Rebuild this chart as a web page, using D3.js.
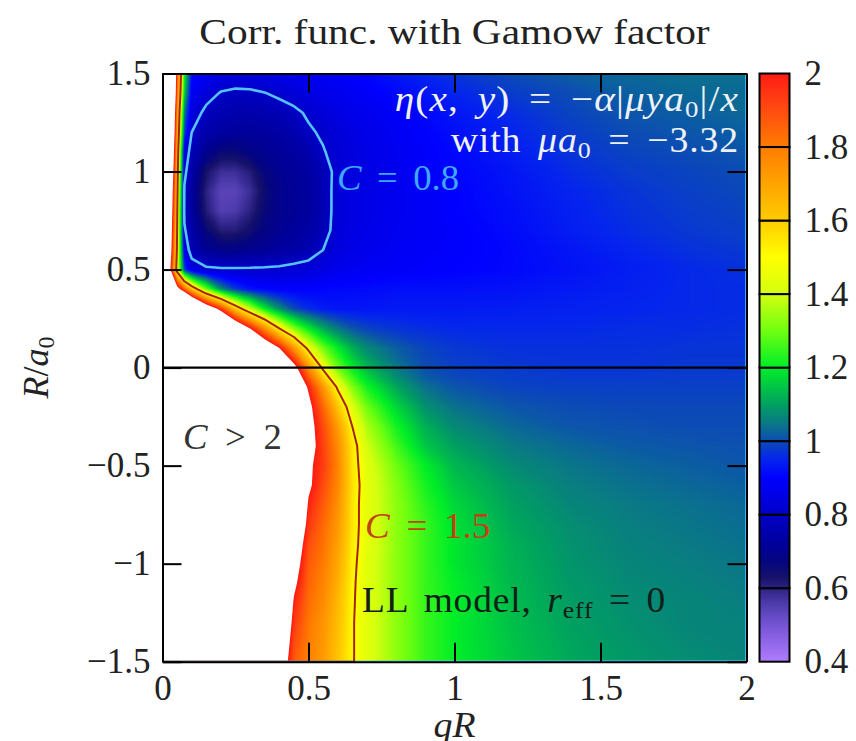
<!DOCTYPE html>
<html>
<head>
<meta charset="utf-8">
<script src="https://cdnjs.cloudflare.com/ajax/libs/d3/7.8.5/d3.min.js"></script>
<style>
  body { margin: 0; background: #fff; }
  svg text { font-family: "Liberation Serif", "Times New Roman", serif; }
</style>
</head>
<body>
<svg id="chart" width="856" height="741"></svg>
<script>
// C(qR, R/a0) on a (non-uniform) grid
var gridX = [0, 0.025, 0.05, 0.075, 0.1, 0.15, 0.2, 0.25, 0.3, 0.35, 0.4, 0.45, 0.5,
             0.55, 0.6, 0.65, 0.7, 0.8, 0.9, 1.0, 1.2, 1.4, 1.6, 1.8, 2.0];
var gridY = [1.5, 1.4, 1.3, 1.2, 1.1, 1.0, 0.9, 0.8, 0.7, 0.6, 0.5, 0.4, 0.3, 0.2, 0.1, 0,
             -0.1, -0.2, -0.3, -0.4, -0.5, -0.6, -0.7, -0.8, -0.9, -1.0, -1.1, -1.2, -1.3, -1.4, -1.5];
var corrRows = [
  [8, 3.0, 1.85, 1.2, 0.92, 0.88, 0.86, 0.85, 0.85, 0.855, 0.86, 0.87, 0.88, 0.885, 0.89, 0.9, 0.91, 0.93, 0.95, 0.97, 1.0, 1.02, 1.03, 1.04, 1.04],
  [8, 2.9, 1.8, 1.15, 0.88, 0.83, 0.795, 0.785, 0.788, 0.798, 0.815, 0.83, 0.845, 0.86, 0.87, 0.88, 0.89, 0.91, 0.93, 0.95, 0.98, 1.0, 1.02, 1.03, 1.03],
  [7, 2.7, 1.72, 1.05, 0.84, 0.78, 0.76, 0.75, 0.75, 0.755, 0.765, 0.785, 0.81, 0.83, 0.85, 0.86, 0.87, 0.89, 0.91, 0.93, 0.96, 0.99, 1.01, 1.02, 1.03],
  [7, 2.6, 1.68, 0.98, 0.8, 0.75, 0.73, 0.72, 0.72, 0.725, 0.735, 0.755, 0.79, 0.81, 0.83, 0.845, 0.86, 0.88, 0.9, 0.92, 0.95, 0.98, 1.0, 1.01, 1.02],
  [6.5, 2.5, 1.62, 0.85, 0.77, 0.7, 0.66, 0.66, 0.68, 0.7, 0.715, 0.73, 0.75, 0.795, 0.825, 0.84, 0.855, 0.875, 0.895, 0.91, 0.94, 0.97, 0.99, 1.0, 1.01],
  [6, 2.4, 1.58, 0.82, 0.74, 0.63, 0.58, 0.58, 0.61, 0.67, 0.7, 0.715, 0.73, 0.77, 0.82, 0.835, 0.85, 0.87, 0.89, 0.905, 0.93, 0.96, 0.98, 0.99, 1.0],
  [6, 2.3, 1.55, 0.79, 0.73, 0.6, 0.54, 0.54, 0.58, 0.65, 0.695, 0.71, 0.725, 0.76, 0.83, 0.845, 0.855, 0.87, 0.885, 0.9, 0.925, 0.95, 0.97, 0.985, 0.995],
  [5.5, 2.25, 1.52, 0.78, 0.73, 0.61, 0.55, 0.56, 0.6, 0.66, 0.695, 0.71, 0.725, 0.76, 0.83, 0.845, 0.855, 0.87, 0.885, 0.9, 0.92, 0.945, 0.965, 0.98, 0.99],
  [5, 2.2, 1.5, 0.81, 0.74, 0.66, 0.61, 0.61, 0.64, 0.68, 0.705, 0.72, 0.735, 0.77, 0.83, 0.85, 0.86, 0.875, 0.885, 0.895, 0.915, 0.94, 0.96, 0.975, 0.985],
  [4.5, 2.15, 1.48, 0.86, 0.76, 0.71, 0.69, 0.69, 0.7, 0.71, 0.725, 0.74, 0.76, 0.8, 0.84, 0.855, 0.865, 0.88, 0.89, 0.895, 0.91, 0.93, 0.95, 0.965, 0.975],
  [4, 2.05, 1.42, 0.98, 0.85, 0.815, 0.81, 0.81, 0.81, 0.812, 0.815, 0.825, 0.835, 0.85, 0.865, 0.875, 0.88, 0.89, 0.895, 0.9, 0.91, 0.925, 0.94, 0.955, 0.965],
  [4, 2.6, 2.1, 1.85, 1.62, 1.3, 1.08, 0.98, 0.93, 0.91, 0.9, 0.9, 0.9, 0.905, 0.91, 0.912, 0.915, 0.92, 0.92, 0.92, 0.925, 0.935, 0.945, 0.955, 0.96],
  [5, 4, 3.4, 3.0, 2.6, 2.2, 1.93, 1.6, 1.38, 1.2, 1.08, 1.0, 0.96, 0.94, 0.93, 0.93, 0.93, 0.935, 0.935, 0.935, 0.94, 0.945, 0.95, 0.955, 0.96],
  [6, 5, 4.3, 3.8, 3.4, 2.9, 2.55, 2.25, 2.0, 1.75, 1.5, 1.32, 1.2, 1.11, 1.05, 1.01, 0.99, 0.97, 0.96, 0.955, 0.955, 0.955, 0.96, 0.96, 0.965],
  [7, 6, 5, 4.4, 4, 3.4, 3.0, 2.65, 2.4, 2.2, 2.0, 1.73, 1.46, 1.3, 1.2, 1.12, 1.07, 1.02, 0.99, 0.975, 0.965, 0.965, 0.965, 0.97, 0.97],
  [8, 7, 6, 5.3, 4.8, 4, 3.5, 3.1, 2.8, 2.6, 2.4, 2.07, 1.75, 1.47, 1.3, 1.2, 1.13, 1.05, 1.0, 0.985, 0.975, 0.97, 0.97, 0.975, 0.975],
  [9, 8, 7, 6.2, 5.6, 4.7, 4, 3.5, 3.1, 2.75, 2.45, 2.2, 1.98, 1.73, 1.48, 1.32, 1.22, 1.11, 1.04, 1.01, 0.99, 0.985, 0.985, 0.985, 0.985],
  [10, 9, 8, 7, 6.3, 5.2, 4.4, 3.8, 3.3, 2.95, 2.62, 2.35, 2.05, 1.84, 1.62, 1.42, 1.3, 1.17, 1.08, 1.04, 1.01, 1.0, 0.995, 0.995, 0.995],
  [11, 10, 9, 7.8, 7, 5.7, 4.8, 4.1, 3.5, 3.1, 2.75, 2.4, 2.07, 1.9, 1.72, 1.5, 1.36, 1.22, 1.12, 1.07, 1.03, 1.01, 1.005, 1.0, 1.0],
  [12, 11, 10, 8.5, 7.5, 6.1, 5.1, 4.3, 3.7, 3.2, 2.8, 2.45, 2.08, 1.92, 1.76, 1.55, 1.4, 1.26, 1.15, 1.1, 1.05, 1.03, 1.015, 1.01, 1.005],
  [13, 12, 10.5, 9, 8, 6.5, 5.4, 4.5, 3.8, 3.3, 2.85, 2.45, 2.03, 1.93, 1.78, 1.55, 1.43, 1.3, 1.2, 1.13, 1.07, 1.045, 1.03, 1.02, 1.01],
  [14, 12.5, 11, 9.5, 8.4, 6.8, 5.6, 4.6, 3.9, 3.3, 2.8, 2.4, 2.03, 1.9, 1.77, 1.56, 1.44, 1.32, 1.22, 1.15, 1.09, 1.055, 1.04, 1.03, 1.02],
  [15, 13, 11.5, 10, 8.8, 7, 5.7, 4.7, 3.9, 3.3, 2.78, 2.35, 1.98, 1.87, 1.75, 1.55, 1.44, 1.33, 1.24, 1.17, 1.1, 1.065, 1.05, 1.04, 1.03],
  [16, 14, 12, 10.5, 9.2, 7.3, 5.9, 4.8, 4.0, 3.3, 2.75, 2.28, 1.94, 1.84, 1.73, 1.55, 1.44, 1.33, 1.25, 1.18, 1.11, 1.075, 1.055, 1.045, 1.035],
  [17, 15, 12.5, 11, 9.6, 7.5, 6, 4.8, 3.9, 3.2, 2.6, 2.16, 1.9, 1.82, 1.71, 1.54, 1.44, 1.33, 1.25, 1.19, 1.12, 1.08, 1.06, 1.05, 1.04],
  [18, 16, 13, 11.5, 10, 7.8, 6.2, 4.9, 3.9, 3.15, 2.55, 2.1, 1.87, 1.8, 1.69, 1.53, 1.43, 1.33, 1.25, 1.19, 1.125, 1.085, 1.065, 1.055, 1.045],
  [19, 17, 14, 12, 10.4, 8, 6.3, 5, 3.9, 3.1, 2.48, 2.04, 1.85, 1.78, 1.67, 1.52, 1.43, 1.33, 1.25, 1.2, 1.13, 1.09, 1.07, 1.06, 1.05],
  [20, 18, 15, 12.5, 10.8, 8.2, 6.4, 5, 3.9, 3.05, 2.4, 1.98, 1.83, 1.76, 1.65, 1.515, 1.43, 1.33, 1.25, 1.2, 1.135, 1.095, 1.075, 1.065, 1.055],
  [21, 19, 16, 13, 11.2, 8.5, 6.5, 5, 3.9, 3.0, 2.32, 1.94, 1.81, 1.74, 1.64, 1.51, 1.43, 1.33, 1.25, 1.2, 1.14, 1.1, 1.08, 1.065, 1.06],
  [22, 20, 17, 13.5, 11.6, 8.7, 6.6, 5, 3.9, 2.95, 2.25, 1.9, 1.8, 1.73, 1.63, 1.51, 1.43, 1.33, 1.25, 1.2, 1.145, 1.105, 1.085, 1.07, 1.06],
  [23, 21, 18, 14, 12, 9, 6.8, 5.1, 3.9, 2.9, 2.18, 1.87, 1.79, 1.72, 1.62, 1.51, 1.43, 1.33, 1.25, 1.2, 1.15, 1.11, 1.09, 1.075, 1.065]
];
var xTicks = [0, 0.5, 1, 1.5, 2];
var yTicks = [-1.5, -1, -0.5, 0, 0.5, 1, 1.5];
var barTicks = [0.4, 0.6, 0.8, 1, 1.2, 1.4, 1.6, 1.8, 2];
var lineLevels = [0.8, 1.5];

// colour map of the figure
var cmapStops = [0.4, 0.5, 0.56, 0.6, 0.63, 0.67, 0.72, 0.8, 0.9, 0.95, 1.0, 1.05, 1.1, 1.2, 1.3, 1.4, 1.5, 1.6, 1.7, 1.8, 1.9, 2.0];
var cmapColors = ["#b07cff", "#7454d4", "#4c3aaa", "#2c2284", "#16126a", "#06067e", "#00009c", "#0000c8", "#0000ff", "#0424ee",
                  "#0c4cb4", "#0a7a84", "#00a060", "#00ee28", "#70ff10", "#d4ff10", "#ffff00", "#ffcc00", "#ffa400",
                  "#ff7c00", "#ff4c10", "#ff1c14"];

var plot = { left: 162.5, right: 746.5, top: 73.5, bottom: 661.7 };
var cbBox = { left: 759.5, width: 30 };

var svg = d3.select("#chart");
var defs = svg.append("defs");

var x = d3.scaleLinear().domain([0, 2]).range([plot.left, plot.right]);
var y = d3.scaleLinear().domain([-1.5, 1.5]).range([plot.bottom, plot.top]);
var color = d3.scaleLinear().domain(cmapStops).range(cmapColors).clamp(true);

// contour grid -> data -> pixels
var nx = gridX.length, ny = gridY.length;
var flat = [].concat.apply([], corrRows);
var ix = d3.scaleLinear().domain(d3.range(nx)).range(gridX).clamp(true);
var iy = d3.scaleLinear().domain(d3.range(ny)).range(gridY).clamp(true);
var toPlot = d3.geoTransform({
  point: function(px, py) {
    this.stream.point(x(ix(px - 0.5)), y(iy(py - 0.5)));
  }
});
var path = d3.geoPath(toPlot);
var contours = d3.contours().size([nx, ny]);

defs.append("clipPath").attr("id", "plotClip")
  .append("rect")
  .attr("x", plot.left).attr("y", plot.top)
  .attr("width", plot.right - plot.left).attr("height", plot.bottom - plot.top);

var map = svg.append("g").attr("clip-path", "url(#plotClip)");

// filled bands, fine steps so the shading looks continuous
var levels = d3.range(160, 800).map(function(k) { return k / 400; });
map.selectAll("path.band")
  .data(contours.thresholds(levels)(flat))
  .enter()
  .append("path")
  .attr("class", "band")
  .attr("d", path)
  .attr("fill", function(d) { return color(d.value + 0.00125); });

// C > 2 left blank
map.append("path")
  .datum(contours.contour(flat, 2))
  .attr("d", path)
  .attr("fill", "#fff");

// contour lines
var lineColors = { 0.8: "#56c2ff", 1.5: "#a8220a" };
lineLevels.forEach(function(lv) {
  map.append("path")
    .datum(contours.contour(flat, lv))
    .attr("d", path)
    .attr("fill", "none")
    .attr("stroke", lineColors[lv])
    .attr("stroke-width", lv === 0.8 ? 2.6 : 2)
    .attr("stroke-linejoin", "round");
});

// y = 0 line
svg.append("line")
  .attr("x1", x(0)).attr("x2", x(2))
  .attr("y1", y(0)).attr("y2", y(0))
  .attr("stroke", "#000").attr("stroke-width", 2.2);

// axes, ticks inside on all four sides
var fmt = d3.format("~g");
function styleAxis(g) {
  g.selectAll("path.domain").attr("stroke", "#000").attr("stroke-width", 2);
  g.selectAll(".tick line").attr("stroke", "#000").attr("stroke-width", 2);
  g.selectAll("text").attr("font-size", 35).attr("fill", "#222")
    .attr("font-family", "Liberation Serif, serif");
}
svg.append("g").attr("transform", "translate(0," + plot.bottom + ")")
  .call(d3.axisBottom(x).tickValues(xTicks).tickFormat(fmt).tickSize(-19).tickSizeOuter(0).tickPadding(13))
  .call(styleAxis);
svg.append("g").attr("transform", "translate(0," + plot.top + ")")
  .call(d3.axisTop(x).tickValues(xTicks).tickFormat("").tickSize(-19).tickSizeOuter(0))
  .call(styleAxis);
svg.append("g").attr("transform", "translate(" + plot.left + ",0)")
  .call(d3.axisLeft(y).tickValues(yTicks).tickFormat(fmt).tickSize(-19).tickSizeOuter(0).tickPadding(12))
  .call(styleAxis);
svg.append("g").attr("transform", "translate(" + plot.right + ",0)")
  .call(d3.axisRight(y).tickValues(yTicks).tickFormat("").tickSize(-19).tickSizeOuter(0))
  .call(styleAxis);

// colour bar: one outlined box per 0.2 step, all sharing one gradient
var cb = d3.scaleLinear().domain([0.4, 2]).range([plot.bottom, plot.top]);
var grad = defs.append("linearGradient")
  .attr("id", "cbGrad")
  .attr("gradientUnits", "userSpaceOnUse")
  .attr("x1", 0).attr("y1", cb(0.4)).attr("x2", 0).attr("y2", cb(2));
grad.selectAll("stop")
  .data(cmapStops)
  .enter()
  .append("stop")
  .attr("offset", function(d) { return (d - 0.4) / 1.6; })
  .attr("stop-color", function(d) { return color(d); });

var segs = d3.pairs(barTicks);
svg.append("g").attr("class", "cbar")
  .selectAll("rect")
  .data(segs)
  .enter()
  .append("rect")
  .attr("x", cbBox.left).attr("width", cbBox.width)
  .attr("y", function(d) { return cb(d[1]); })
  .attr("height", function(d) { return cb(d[0]) - cb(d[1]); })
  .attr("fill", "url(#cbGrad)")
  .attr("stroke", "#000").attr("stroke-width", 2);

var cbAxis = svg.append("g").attr("transform", "translate(" + (cbBox.left + cbBox.width) + ",0)")
  .call(d3.axisRight(cb).tickValues(barTicks).tickFormat(fmt).tickSize(0).tickPadding(15))
  .call(styleAxis);
cbAxis.select("path.domain").remove();

// text with italic / subscript pieces; sx widens it a little like the TeX font
function mathText(px, py, sx, pieces) {
  var sel = svg.append("text").attr("transform", "translate(" + px + "," + py + ") scale(" + sx + ",1)");
  var down = false;
  pieces.forEach(function(p) {
    var t = sel.append("tspan").text(p.t);
    if (p.i) t.style("font-style", "italic");
    if (p.sub) {
      t.attr("font-size", 24).attr("dy", 6);
      down = true;
    } else if (down) {
      t.attr("dy", -6);
      down = false;
    }
  });
  return sel;
}

mathText((plot.left + plot.right) / 2, 44, 1.15, [{ t: "Corr. func. with Gamow factor" }])
  .attr("text-anchor", "middle").attr("font-size", 36).attr("fill", "#222");

mathText((plot.left + plot.right) / 2, 737, 1.05, [{ t: "qR", i: true }])
  .attr("text-anchor", "middle").attr("font-size", 36).attr("fill", "#222");

mathText(48, y(0), 1, [{ t: "R", i: true }, { t: "/" }, { t: "a", i: true }, { t: "0", sub: true }])
  .attr("transform", "translate(48," + y(0) + ") rotate(-90)")
  .attr("text-anchor", "middle").attr("font-size", 36).attr("fill", "#222");

mathText(739, 111, 1.12,
  [{ t: "η", i: true }, { t: "(" }, { t: "x", i: true }, { t: ", " }, { t: "y", i: true },
   { t: ") = −" }, { t: "α", i: true }, { t: "|" }, { t: "μya", i: true }, { t: "0", sub: true },
   { t: "|/" }, { t: "x", i: true }])
  .attr("text-anchor", "end").attr("font-size", 35).attr("fill", "#eef2f4")
  .attr("letter-spacing", 1).attr("word-spacing", 7);

mathText(739, 152, 1.08,
  [{ t: "with " }, { t: "μa", i: true }, { t: "0", sub: true }, { t: " = −3.32" }])
  .attr("text-anchor", "end").attr("font-size", 35).attr("fill", "#eef2f4")
  .attr("letter-spacing", 0.8).attr("word-spacing", 6);

mathText(337, 190, 1.05, [{ t: "C", i: true }, { t: " = 0.8" }])
  .attr("font-size", 35).attr("fill", "#3ea8ff").attr("word-spacing", 6);

mathText(183, 449, 1.05, [{ t: "C", i: true }, { t: " > 2" }])
  .attr("font-size", 35).attr("fill", "#333").attr("word-spacing", 8);

mathText(365, 538, 1.06, [{ t: "C", i: true }, { t: " = 1.5" }])
  .attr("font-size", 35).attr("fill", "#c0440e").attr("word-spacing", 7);

mathText(362, 612, 1.07,
  [{ t: "LL model, " }, { t: "r", i: true }, { t: "eff", sub: true }, { t: " = 0" }])
  .attr("font-size", 35).attr("fill", "#112018")
  .attr("letter-spacing", 0.8).attr("word-spacing", 5);
</script>
</body>
</html>
